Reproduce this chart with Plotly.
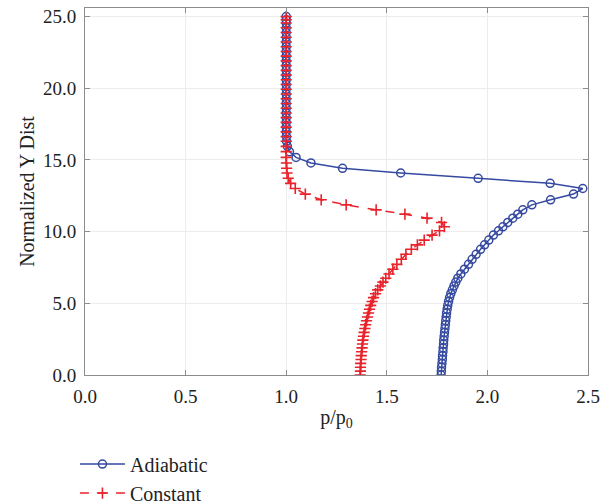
import plotly.graph_objects as go

# Shared normalized Y grid
y_dist = [0.0, 0.27, 0.54, 0.81, 1.08, 1.35, 1.62, 1.89, 2.16, 2.43, 2.70, 2.97, 3.24, 3.51,
          3.78, 4.05, 4.32, 4.59, 4.86, 5.13, 5.40, 5.67, 5.94, 6.21, 6.48, 6.75, 7.05, 7.38,
          7.72, 8.07, 8.42, 8.77, 9.08, 9.41, 9.76, 10.06, 10.34, 10.64, 10.94, 11.22, 11.52,
          11.87, 12.22, 12.62, 13.01, 13.37, 13.72, 14.09, 14.42, 14.79, 15.18, 15.58, 15.95,
          16.30, 16.63, 16.96, 17.29, 17.62, 17.95, 18.28, 18.61, 18.94, 19.27, 19.60, 19.93,
          20.26, 20.59, 20.92, 21.25, 21.58, 21.91, 22.24, 22.57, 22.90, 23.23, 23.56, 23.89,
          24.22, 24.55, 24.78, 25.0]

adiabatic = [1.770, 1.771, 1.772, 1.774, 1.776, 1.777, 1.779, 1.780, 1.782, 1.783, 1.785, 1.787,
             1.789, 1.791, 1.793, 1.795, 1.797, 1.800, 1.803, 1.807, 1.812, 1.818, 1.826, 1.834,
             1.843, 1.853, 1.868, 1.886, 1.906, 1.924, 1.944, 1.966, 1.986, 2.007, 2.030, 2.055,
             2.077, 2.101, 2.126, 2.151, 2.176, 2.221, 2.314, 2.428, 2.474, 2.312, 1.954, 1.569,
             1.280, 1.123, 1.049, 1.016, 1.006, 1.002, 1.001, 1.0, 1.0, 1.0, 1.0, 1.0, 1.0, 1.0,
             1.0, 1.0, 1.0, 1.0, 1.0, 1.0, 1.0, 1.0, 1.0, 1.0, 1.0, 1.0, 1.0, 1.0, 1.0, 1.0, 1.0,
             1.0, 1.0]

constant = [1.368, 1.369, 1.369, 1.370, 1.372, 1.373, 1.375, 1.377, 1.379, 1.381, 1.384, 1.387,
            1.391, 1.395, 1.399, 1.404, 1.409, 1.414, 1.420, 1.427, 1.434, 1.444, 1.455, 1.468,
            1.481, 1.495, 1.511, 1.530, 1.550, 1.572, 1.595, 1.622, 1.652, 1.686, 1.725, 1.762,
            1.786, 1.772, 1.700, 1.590, 1.447, 1.298, 1.174, 1.095, 1.045, 1.022, 1.010, 1.004,
            1.002, 1.001, 1.0, 1.0, 1.0, 1.0, 1.0, 1.0, 1.0, 1.0, 1.0, 1.0, 1.0, 1.0, 1.0, 1.0,
            1.0, 1.0, 1.0, 1.0, 1.0, 1.0, 1.0, 1.0, 1.0, 1.0, 1.0, 1.0, 1.0, 1.0, 1.0, 1.0, 1.0]

x_ticks = [0.0, 0.5, 1.0, 1.5, 2.0, 2.5]
y_ticks = [0.0, 5.0, 10.0, 15.0, 20.0, 25.0]

BLUE = "#3549a0"
RED = "#e8232b"
FONT = "Liberation Serif"
TXT = "#222222"

fig = go.Figure()
fig.add_trace(go.Scatter(
    x=adiabatic, y=y_dist, name="Adiabatic", mode="lines+markers",
    line=dict(color=BLUE, width=1.5),
    marker=dict(symbol="circle-open", size=8, color=BLUE, line=dict(width=1.5)),
))
fig.add_trace(go.Scatter(
    x=constant, y=y_dist, name="Constant", mode="lines+markers",
    line=dict(color=RED, width=1.5, dash="dash"),
    marker=dict(symbol="cross-thin-open", size=8, color=RED, line=dict(width=1.6, color=RED)),
))

axis_common = dict(
    showline=True, linecolor="#8c8c8c", linewidth=1, mirror="ticks",
    ticks="inside", ticklen=5, tickcolor="#8c8c8c",
    showgrid=True, gridcolor="#ececec", gridwidth=1, zeroline=False,
    tickfont=dict(family=FONT, size=19, color=TXT),
    tickformat=".1f", ticklabelstandoff=4,
)

fig.update_layout(
    width=606, height=504,
    margin=dict(l=85, r=18, t=8, b=129, autoexpand=False),
    paper_bgcolor="white", plot_bgcolor="white",
    font=dict(family=FONT, size=19, color=TXT),
    showlegend=True,
    legend=dict(x=-0.02, y=0.118, xref="paper", yref="container",
                xanchor="left", yanchor="top", itemwidth=45,
                font=dict(family=FONT, size=20, color=TXT),
                bgcolor="rgba(0,0,0,0)", tracegroupgap=0),
    xaxis=dict(range=[0, 2.5], tickvals=x_ticks,
               title=dict(text="p/p<sub>0</sub>", font=dict(family=FONT, size=20), standoff=4),
               **axis_common),
    yaxis=dict(range=[0, 25.6], tickvals=y_ticks,
               title=dict(text="Normalized Y Dist", font=dict(family=FONT, size=20), standoff=2),
               **axis_common),
)

fig.write_html("out.html")
